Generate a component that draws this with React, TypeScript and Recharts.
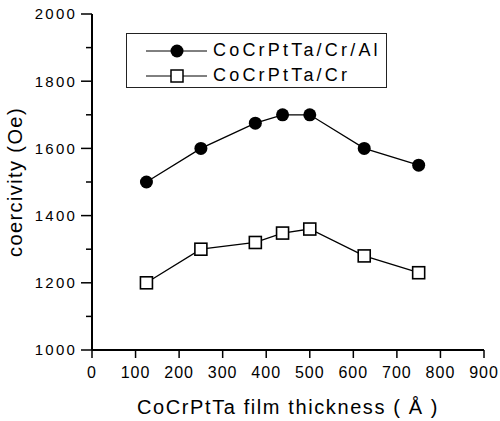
import React from "react";
import {
  Legend,
  Line,
  LineChart,
  XAxis,
  YAxis,
} from "recharts";

// film thickness (Å)
const thickness = [125, 250, 375, 437.5, 500, 625, 750];
// coercivity (Oe)
const crAlValues = [1500, 1600, 1675, 1700, 1700, 1600, 1550];
const crValues = [1200, 1300, 1320, 1348, 1360, 1280, 1230];

const seriesNames = ["CoCrPtTa/Cr/Al", "CoCrPtTa/Cr"];

const xTicks = [0, 100, 200, 300, 400, 500, 600, 700, 800, 900];
const yTicks = [1000, 1100, 1200, 1300, 1400, 1500, 1600, 1700, 1800, 1900, 2000];
const topTicks = [100, 200, 300, 400, 500, 600, 700, 800];
const rightTicks = [1200, 1400, 1600, 1800];

const data = thickness.map((t, i) => ({
  t,
  crAl: crAlValues[i],
  cr: crValues[i],
}));

const FONT = '"Liberation Sans", Arial, Helvetica, sans-serif';

function SquareDot(props: any) {
  const { cx, cy, index } = props;
  if (cx == null || cy == null) return <g key={index} />;
  return (
    <rect
      key={index}
      x={cx - 6}
      y={cy - 6}
      width={12}
      height={12}
      fill="#fff"
      stroke="#000"
      strokeWidth={1.6}
    />
  );
}

// left axis: labels on the even hundreds, short ticks on the odd ones
function LeftTick(props: any) {
  const { x, y, payload } = props;
  const major = payload.value % 200 === 0;
  const edge = x + 14;
  return (
    <g>
      <line
        x1={edge - (major ? 11 : 6)}
        x2={edge}
        y1={y}
        y2={y}
        stroke="#000"
        strokeWidth={1.5}
      />
      {major && (
        <text
          x={x - 1}
          y={y}
          dy="0.36em"
          textAnchor="end"
          fontSize={15}
          letterSpacing={2.2}
          fill="#000"
        >
          {payload.value}
        </text>
      )}
    </g>
  );
}

function LegendBox() {
  const rows = [
    { name: seriesNames[0], filled: true },
    { name: seriesNames[1], filled: false },
  ];
  return (
    <div
      style={{
        width: 261,
        height: 55,
        border: "1px solid #222",
        background: "#fff",
        boxSizing: "border-box",
        paddingTop: 4,
      }}
    >
      {rows.map((r) => (
        <div
          key={r.name}
          style={{ display: "flex", alignItems: "center", height: 25 }}
        >
          <svg width={86} height={20} style={{ flex: "none" }}>
            <line x1={19} x2={80} y1={10} y2={10} stroke="#000" strokeWidth={1} />
            {r.filled ? (
              <circle cx={50} cy={10} r={6.5} fill="#000" />
            ) : (
              <rect x={44} y={4} width={12} height={12} fill="#fff" stroke="#000" strokeWidth={1.5} />
            )}
          </svg>
          <span
            style={{
              fontSize: 18,
              letterSpacing: 3.2,
              color: "#000",
              whiteSpace: "nowrap",
            }}
          >
            {r.name}
          </span>
        </div>
      ))}
    </div>
  );
}

export default function App() {
  return (
    <div
      style={{
        position: "absolute",
        left: 0,
        top: 0,
        width: 500,
        height: 421,
        background: "#fff",
        fontFamily: FONT,
      }}
    >
      <LineChart
        width={500}
        height={421}
        data={data}
        margin={{ top: 14, right: 16, bottom: 0, left: 32 }}
      >
        <XAxis
          dataKey="t"
          type="number"
          domain={[0, 900]}
          ticks={xTicks}
          interval={0}
          height={71}
          tickSize={8}
          tickMargin={9}
          axisLine={{ stroke: "#000", strokeWidth: 2 }}
          tickLine={{ stroke: "#000", strokeWidth: 1.5 }}
          tick={{ fontSize: 16, fill: "#000", letterSpacing: 1 }}
          label={{
            value: "CoCrPtTa film thickness ( Å )",
            position: "insideBottom",
            offset: 7,
            fontSize: 20,
            fill: "#000",
            letterSpacing: 1.6,
          }}
        />
        <XAxis
          xAxisId="top"
          orientation="top"
          type="number"
          domain={[0, 900]}
          ticks={topTicks}
          interval={0}
          height={0}
          mirror
          tickSize={6}
          axisLine={{ stroke: "#000", strokeWidth: 2 }}
          tickLine={{ stroke: "#000", strokeWidth: 1.5 }}
          tickFormatter={() => ""}
        />
        <YAxis
          type="number"
          domain={[1000, 2000]}
          ticks={yTicks}
          interval={0}
          width={60}
          tickSize={11}
          tickMargin={3}
          tickLine={false}
          axisLine={{ stroke: "#000", strokeWidth: 2 }}
          tick={<LeftTick />}
          label={{
            content: (p: any) => {
              const vb = p.viewBox;
              const cx = vb.x - 17;
              const cy = vb.y + vb.height / 2;
              return (
                <text
                  x={cx}
                  y={cy}
                  dy="0.36em"
                  textAnchor="middle"
                  fontSize={20}
                  letterSpacing={1.4}
                  fill="#000"
                  transform={`rotate(-90, ${cx}, ${cy})`}
                >
                  coercivity (Oe)
                </text>
              );
            },
          }}
        />
        <YAxis
          yAxisId="right"
          orientation="right"
          type="number"
          domain={[1000, 2000]}
          ticks={rightTicks}
          interval={0}
          width={0}
          mirror
          tickSize={6}
          axisLine={{ stroke: "#000", strokeWidth: 2 }}
          tickLine={{ stroke: "#000", strokeWidth: 1.5 }}
          tickFormatter={() => ""}
        />
        <Legend
          layout="horizontal"
          verticalAlign="middle"
          align="center"
          content={() => <LegendBox />}
          wrapperStyle={{ position: "absolute", left: 126, top: 33, width: 261 }}
        />
        <Line
          dataKey="crAl"
          name={seriesNames[0]}
          stroke="#000"
          strokeWidth={1.3}
          dot={{ r: 6.5, fill: "#000", stroke: "#000", strokeWidth: 0 }}
          isAnimationActive={false}
        />
        <Line
          dataKey="cr"
          name={seriesNames[1]}
          stroke="#000"
          strokeWidth={1.3}
          dot={<SquareDot />}
          isAnimationActive={false}
        />
      </LineChart>
    </div>
  );
}
